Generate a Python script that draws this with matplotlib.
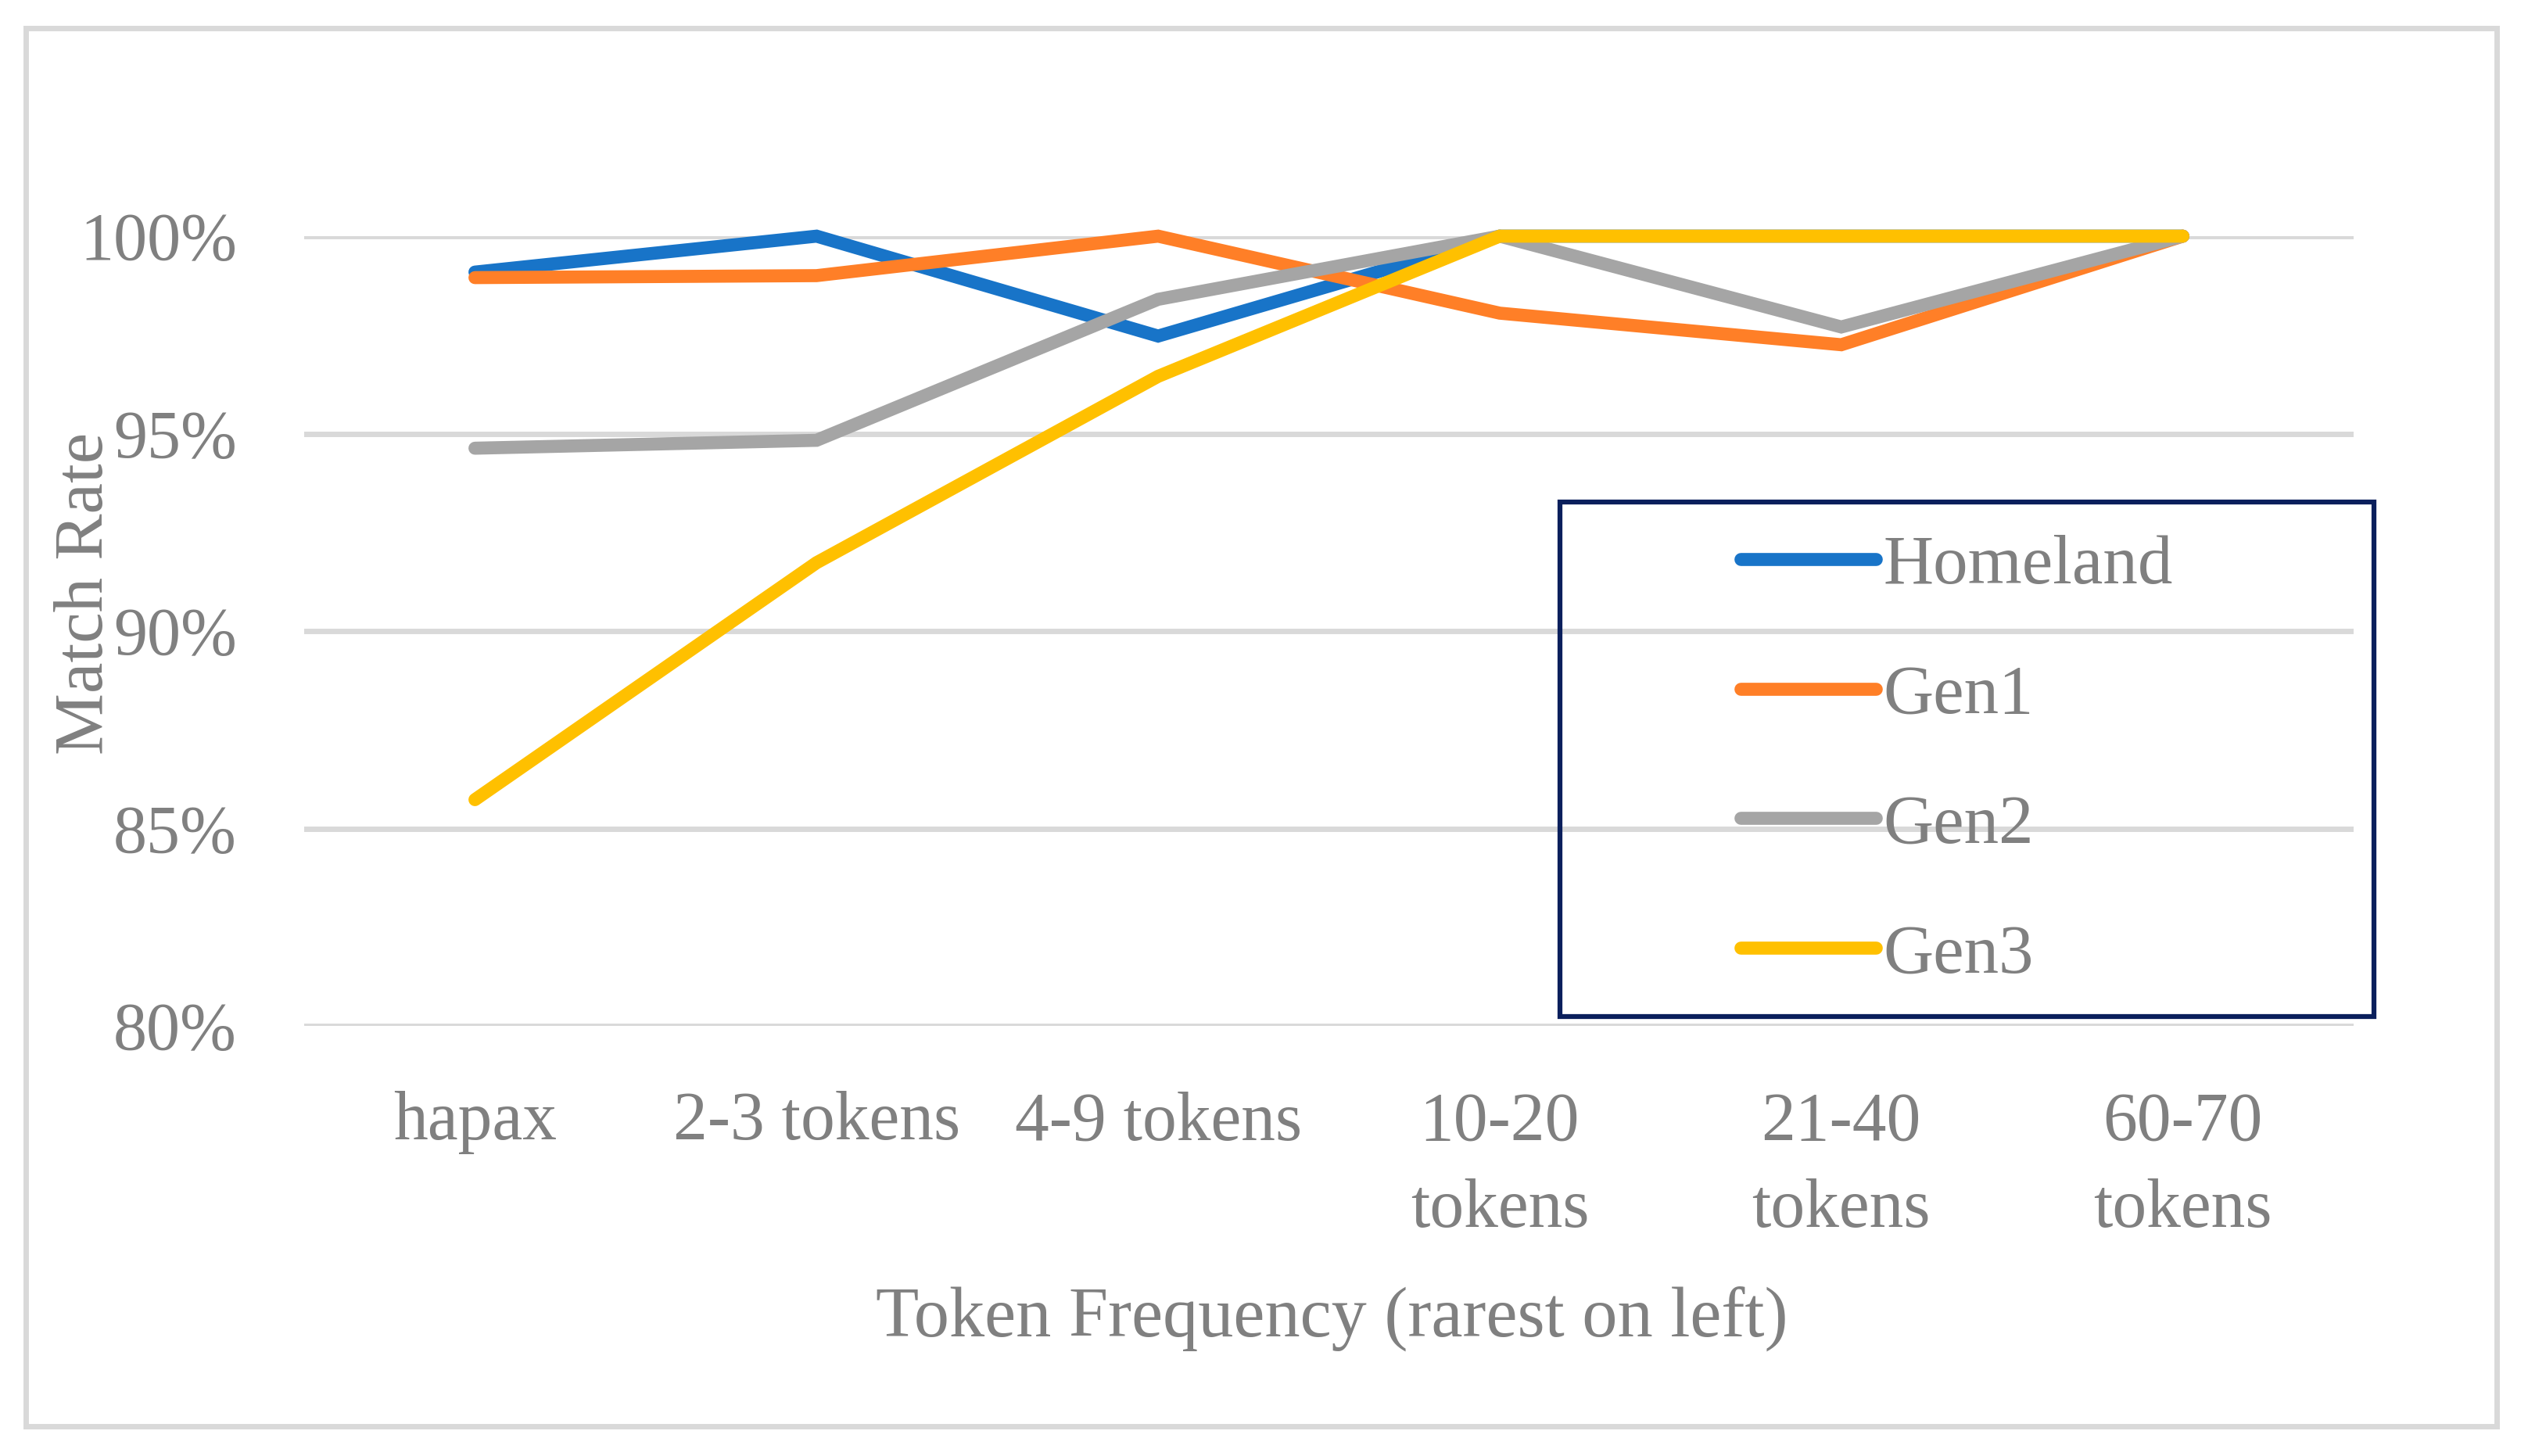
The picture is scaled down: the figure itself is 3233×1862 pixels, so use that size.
import matplotlib
matplotlib.use("Agg")
import matplotlib.pyplot as plt
from matplotlib.patches import Rectangle
from matplotlib.ticker import FuncFormatter

categories = ["hapax", "2-3 tokens", "4-9 tokens", "10-20\ntokens", "21-40\ntokens", "60-70\ntokens"]
series_names = ["Homeland", "Gen1", "Gen2", "Gen3"]
homeland = [0.9909, 1.0, 0.9747, 1.0, 1.0, 1.0]
gen1 = [0.9895, 0.9900, 1.0, 0.9805, 0.9725, 1.0]
gen2 = [0.9463, 0.9483, 0.9840, 1.0, 0.9770, 1.0]
gen3 = [0.8573, 0.9173, 0.9645, 1.0, 1.0, 1.0]
colors = ["#1874C8", "#FF7F27", "#A5A5A5", "#FFC000"]
yticks = [0.80, 0.85, 0.90, 0.95, 1.00]

W, H = 3233, 1862
DPI = 100
fig = plt.figure(figsize=(W / DPI, H / DPI), dpi=DPI)
plt.rcParams['font.family'] = ['Liberation Serif', 'DejaVu Serif']
txt = "#808080"

ax = fig.add_axes([389 / W, 1 - 1312 / H, (3010 - 389) / W, (1312 - 302) / H])
x = list(range(len(categories)))
for vals, name, c in zip([homeland, gen1, gen2, gen3], series_names, colors):
    ax.plot(x, vals, color=c, lw=12, label=name, solid_capstyle='round',
            solid_joinstyle='miter', clip_on=False, zorder=3)

ax.set_xlim(-0.5, len(categories) - 0.5)
ax.set_ylim(0.80, 1.00)
ax.set_yticks(yticks)
ax.yaxis.set_major_formatter(FuncFormatter(lambda v, p: f"{v*100:.0f}%"))
ax.set_xticks(x)
ax.set_xticklabels(categories, linespacing=1.5)
ax.grid(axis='y', color='#D9D9D9', lw=5, zorder=0)
ax.set_axisbelow(True)
for s in ax.spines.values():
    s.set_visible(False)
ax.tick_params(axis='y', length=0, pad=62, labelsize=62, labelcolor=txt)
ax.tick_params(axis='x', length=0, pad=60, labelsize=63, labelcolor=txt)

fig.text(110 / W, 1 - 759 / H, "Match Rate", rotation=90, ha='center', va='center',
         fontsize=64, color=txt)
fig.text(1703 / W, 1 - 1709 / H, "Token Frequency (rarest on left)", ha='center',
         va='baseline', fontsize=65, color=txt)

# outer chart border
fig.patches.append(Rectangle((33 / W, 1 - 1824 / H), (3193 - 33) / W, (1824 - 36) / H,
                             transform=fig.transFigure, fill=False, edgecolor='#D9D9D9',
                             lw=5))
# legend box
fig.patches.append(Rectangle((1995 / W, 1 - 1300 / H), (3036 - 1995) / W, (1300 - 642) / H,
                             transform=fig.transFigure, fill=False, edgecolor='#0A1F5C',
                             lw=4.5, zorder=5))
leg = ax.legend(loc='upper left', bbox_to_anchor=(2226 / W, 1 - 684 / H),
                bbox_transform=fig.transFigure, frameon=False, fontsize=64,
                handlelength=1.95, handletextpad=0.1, labelspacing=0.95,
                borderpad=0, borderaxespad=0)
for t in leg.get_texts():
    t.set_color(txt)

fig.savefig("out.png", dpi=DPI, facecolor='white')
